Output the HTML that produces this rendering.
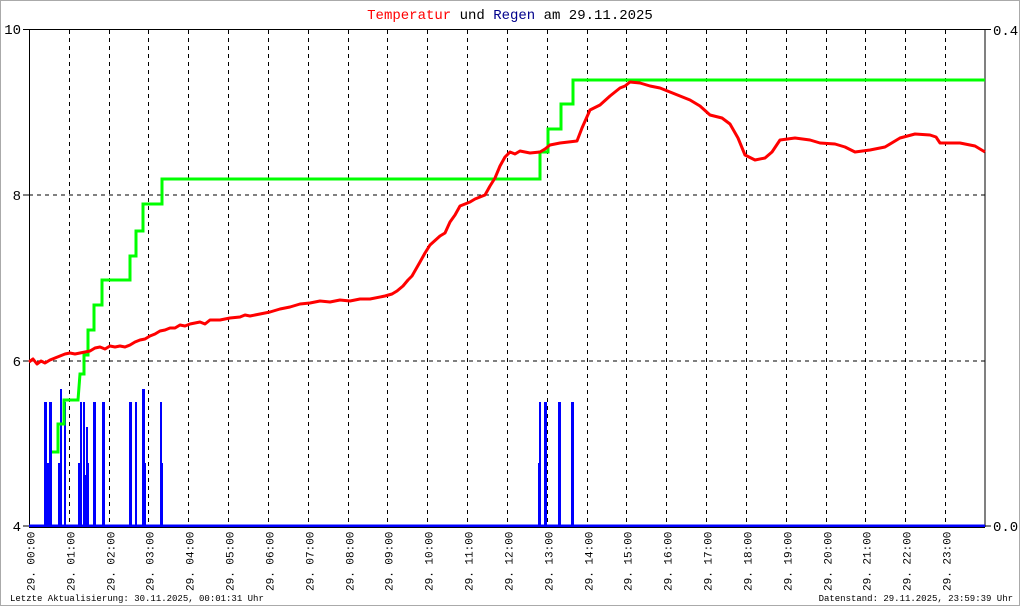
<!DOCTYPE html>
<html><head><meta charset="utf-8"><style>
html,body{margin:0;padding:0;background:#fff}
svg{display:block}
text{font-family:"Liberation Mono","DejaVu Sans Mono",monospace}
</style></head><body>
<svg width="1020" height="606" viewBox="0 0 1020 606" xmlns="http://www.w3.org/2000/svg">
<rect x="0.5" y="0.5" width="1019" height="605" fill="#fff" stroke="#aaa"/>
<text x="510" y="19" font-size="14" text-anchor="middle"><tspan fill="#f00">Temperatur</tspan><tspan fill="#000"> und </tspan><tspan fill="#00008b">Regen</tspan><tspan fill="#000"> am 29.11.2025</tspan></text>
<g stroke="#000" stroke-width="1" stroke-dasharray="4,4">
<line x1="29" y1="195" x2="985" y2="195"/>
<line x1="29" y1="361" x2="985" y2="361"/>
</g>
<g id="vg" stroke="#000" stroke-width="1" stroke-dasharray="4,4"></g>
<rect x="29.5" y="29.5" width="955.5" height="497" fill="none" stroke="#000"/>
<g font-size="14" fill="#000" text-anchor="end">
<text x="21" y="34">10</text><text x="21" y="200">8</text><text x="21" y="366">6</text><text x="21" y="531">4</text>
</g>
<g stroke="#000"><line x1="23" y1="29.5" x2="29" y2="29.5"/><line x1="23" y1="195" x2="29" y2="195"/><line x1="23" y1="361" x2="29" y2="361"/><line x1="23" y1="526" x2="29" y2="526"/>
<line x1="985" y1="29.5" x2="991" y2="29.5"/><line x1="985" y1="526" x2="991" y2="526"/></g>
<g font-size="14" fill="#000"><text x="993" y="35">0.4</text><text x="993" y="531">0.0</text></g>
<g fill="#00f">
<rect x="44" y="402" width="3" height="124"/><rect x="47" y="463" width="2" height="63"/><rect x="49" y="402" width="3" height="124"/>
<rect x="58" y="463" width="2" height="63"/><rect x="60" y="389" width="2" height="137"/><rect x="64" y="402" width="2" height="124"/>
<rect x="78" y="463" width="2" height="63"/><rect x="80" y="402" width="2" height="124"/><rect x="83" y="402" width="2" height="124"/>
<rect x="85" y="475" width="1" height="51"/><rect x="86" y="427" width="2" height="99"/><rect x="88" y="463" width="1" height="63"/>
<rect x="93" y="402" width="3" height="124"/><rect x="102" y="402" width="3" height="124"/>
<rect x="129" y="402" width="3" height="124"/><rect x="135" y="402" width="2" height="124"/><rect x="142" y="389" width="3" height="137"/><rect x="145" y="463" width="1" height="63"/>
<rect x="160" y="402" width="2" height="124"/><rect x="162" y="463" width="1" height="63"/>
<rect x="538" y="463" width="1" height="63"/><rect x="539" y="402" width="2" height="124"/><rect x="544" y="402" width="3" height="124"/><rect x="558" y="402" width="3" height="124"/><rect x="571" y="402" width="3" height="124"/>
</g>
<line x1="29" y1="526" x2="985" y2="526" stroke="#00f" stroke-width="3"/>
<line x1="29" y1="527.5" x2="985" y2="527.5" stroke="#000" stroke-width="1"/>
<polyline fill="none" stroke="#0f0" stroke-width="3" points="52,452 58,452 58,424 64,424 64,400 78,400 80,374 84,374 84,355 88,355 88,330 94,330 94,305 102,305 102,280 130,280 130,256 136,256 136,231 143,231 143,204 162,204 162,179 540,179 540,152 548,152 548,129 561,129 561,104 573,104 573,80 985,80"/>
<polyline fill="none" stroke="#f00" stroke-width="3" stroke-linejoin="round" points="29,362 33,359 37,364 41,361 45,363 50,360 55,358 60,356 65,354 70,353 75,354 80,353 85,352 90,351 95,348 100,347 105,349 110,346 115,347 120,346 125,347 130,345 135,342 140,340 145,339 150,336 155,334 160,331 165,330 170,328 175,328 180,325 185,326 190,324 200,322 205,324 210,320 220,320 230,318 240,317 245,315 250,316 260,314 270,312 280,309 290,307 300,304 310,303 320,301 330,302 340,300 350,301 360,299 370,299 385,296 392,294 397,291 403,286 408,280 412,276 420,262 425,253 430,245 440,236 445,233 450,222 455,215 460,206 465,204 470,202 475,199 480,197 485,195 490,186 495,178 500,166 505,157 510,152 515,154 520,151 530,153 540,152 545,149 550,145 560,143 577,141 582,128 590,110 600,105 610,96 620,88 625,86 630,82 640,83 650,86 660,88 670,92 680,96 690,100 700,106 710,115 722,118 730,124 738,138 745,155 755,160 765,158 772,152 780,140 795,138 810,140 820,143 835,144 845,147 855,152 870,150 885,147 900,138 915,134 930,135 936,137 940,143 960,143 975,146 985,152"/>
<g id="xl" font-size="11" fill="#000"></g>
<text x="10" y="601" font-size="9" fill="#000">Letzte Aktualisierung: 30.11.2025, 00:01:31 Uhr</text>
<text x="1013" y="601" font-size="9" fill="#000" text-anchor="end">Datenstand: 29.11.2025, 23:59:39 Uhr</text>
<script>
var vg=document.getElementById('vg'),xl=document.getElementById('xl'),ns='http://www.w3.org/2000/svg';
for(var h=0;h<24;h++){var x=Math.round(29+h*39.83)+0.5;
if(h>0){var l=document.createElementNS(ns,'line');l.setAttribute('x1',x);l.setAttribute('x2',x);l.setAttribute('y1',30);l.setAttribute('y2',526);vg.appendChild(l);}
var t=document.createElementNS(ns,'text');t.setAttribute('transform','translate('+(x+5)+',591) rotate(-90)');
t.textContent='29. '+(h<10?'0':'')+h+':00';xl.appendChild(t);}
</script>
</svg>
</body></html>
